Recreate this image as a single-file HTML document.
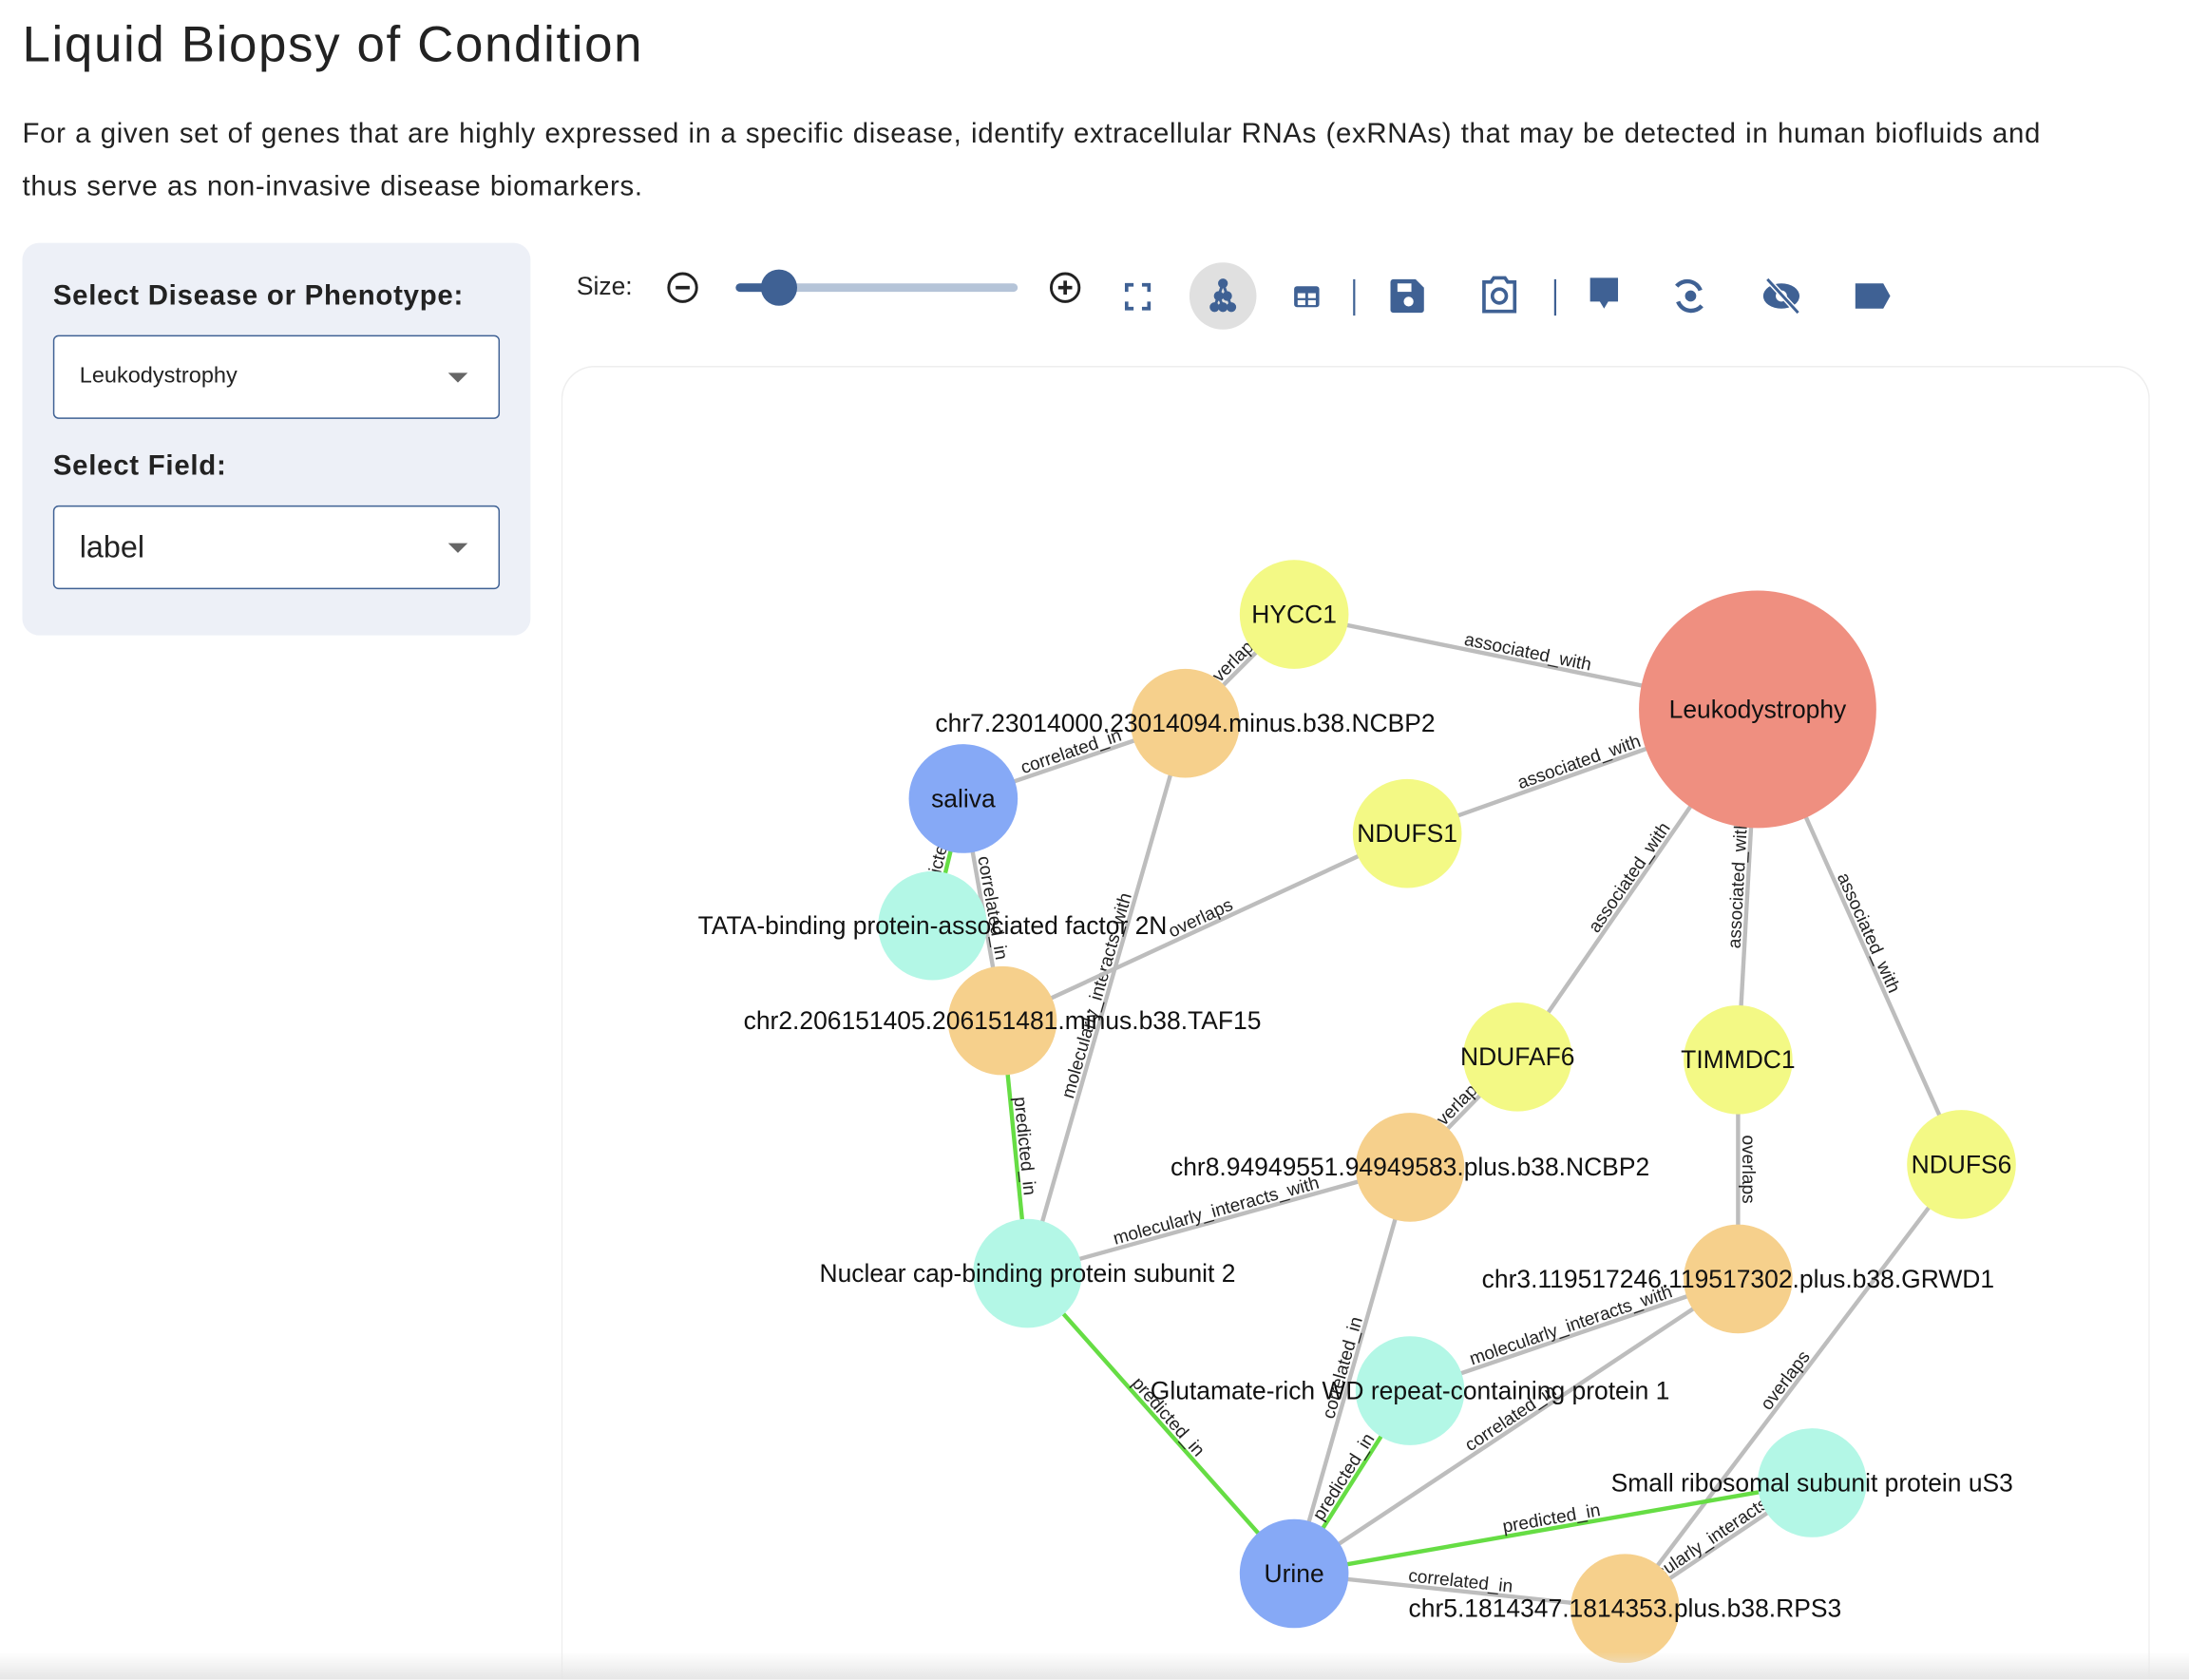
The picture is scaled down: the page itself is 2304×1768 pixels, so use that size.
<!DOCTYPE html>
<html><head><meta charset="utf-8">
<style>
html,body{margin:0;padding:0;background:#fff;overflow:hidden;width:2304px;height:1768px}
#clip{position:absolute;left:0;top:0;width:2304px;height:1768px;overflow:hidden}
#root{position:absolute;left:0;top:0;width:1568px;height:1203px;overflow:hidden;transform:scale(1.46939);transform-origin:0 0;font-family:"Liberation Sans",sans-serif;color:#222}
h1{position:absolute;left:16px;top:11px;margin:0;font-weight:400;font-size:36px;letter-spacing:1.1px}
.desc{position:absolute;left:16px;top:77px;width:1470px;font-size:20px;line-height:38px;color:#222;letter-spacing:0.45px;word-spacing:0.5px}
.panel{position:absolute;left:16px;top:174px;width:364px;height:281px;background:#edf0f7;border-radius:12px}
.lbl{position:absolute;left:22px;font-weight:700;font-size:20px;color:#222;letter-spacing:0.5px}
.sel{position:absolute;left:22px;width:320px;height:60px;border:1.5px solid #3f6194;border-radius:4px;background:#fff;box-sizing:border-box}
.sel span{position:absolute;left:18px;top:50%;transform:translateY(-50%)}
.sel i{position:absolute;right:22px;top:26px;width:0;height:0;border-left:7px solid transparent;border-right:7px solid transparent;border-top:7px solid #666}
.tb{position:absolute;top:190px}
.graph{position:absolute;left:402px;top:262px;width:1138px;height:941px;border:1px solid #eee;border-bottom:none;border-radius:24px 24px 0 0;background:#fff;box-sizing:border-box}
.bot{position:absolute;left:0;top:1183px;width:1568px;height:20px;background:linear-gradient(#fff0,#e6e6e6)}
</style></head><body>
<div id="clip">
<div id="root">
<h1>Liquid Biopsy of Condition</h1>
<div class="desc">For a given set of genes that are highly expressed in a specific disease, identify extracellular RNAs (exRNAs) that may be detected in human biofluids and thus serve as non-invasive disease biomarkers.</div>
<div class="panel">
 <div class="lbl" style="top:27px">Select Disease or Phenotype:</div>
 <div class="sel" style="top:66px;font-size:16px"><span>Leukodystrophy</span><i></i></div>
 <div class="lbl" style="top:149px">Select Field:</div>
 <div class="sel" style="top:188px;font-size:22px"><span>label</span><i></i></div>
</div>
<div class="tb" style="left:413px;top:195px;font-size:18px">Size:</div>
<svg class="tb" style="left:470px;top:180px" width="900" height="64">
 <g><circle cx="19" cy="26" r="10" fill="none" stroke="#222" stroke-width="2"/><line x1="14" y1="26" x2="24" y2="26" stroke="#222" stroke-width="2.5"/></g>
 <g><line x1="60" y1="26" x2="256" y2="26" stroke="#b5c4d8" stroke-width="6" stroke-linecap="round"/><line x1="60" y1="26" x2="88" y2="26" stroke="#3f6194" stroke-width="6" stroke-linecap="round"/><circle cx="88" cy="26" r="13" fill="#3f6194"/></g>
 <g><circle cx="293" cy="26" r="10" fill="none" stroke="#222" stroke-width="2"/><line x1="288" y1="26" x2="298" y2="26" stroke="#222" stroke-width="2.5"/><line x1="293" y1="21" x2="293" y2="31" stroke="#222" stroke-width="2.5"/></g>
 <g fill="none" stroke="#3f6194" stroke-width="2.5"><path d="M337 29v-5h5M348 24h5v5M353 36v5h-5M342 41h-5v-5"/></g>
 <g><circle cx="406" cy="32" r="24" fill="#e0e0e0"/><g stroke="#3f6194" stroke-width="2" fill="#3f6194"><line x1="406" y1="23" x2="400" y2="40"/><line x1="406" y1="23" x2="412" y2="40"/><line x1="403" y1="32" x2="406" y2="40"/><circle cx="406" cy="23" r="2.5"/><circle cx="403" cy="32" r="2.5"/><circle cx="409" cy="32" r="2.5"/><circle cx="400" cy="40" r="2.5"/><circle cx="406" cy="40" r="2.5"/><circle cx="412" cy="40" r="2.5"/></g></g>
 <g><rect x="457" y="25" width="18" height="15" rx="2" fill="#3f6194"/><rect x="459.5" y="30" width="5.5" height="3.5" fill="#fff"/><rect x="467" y="30" width="5.5" height="3.5" fill="#fff"/><rect x="459.5" y="35" width="5.5" height="3.5" fill="#fff"/><rect x="467" y="35" width="5.5" height="3.5" fill="#fff"/></g>
 <line x1="500" y1="20" x2="500" y2="46" stroke="#3f6194" stroke-width="1.5"/>
 <g><path d="M528 20h16l6 6v16a2 2 0 0 1-2 2h-20a2 2 0 0 1-2-2v-20a2 2 0 0 1 2-2z" fill="#3f6194"/><rect x="531" y="23" width="10" height="6" fill="#fff"/><circle cx="539" cy="36" r="3.5" fill="#fff"/></g>
 <g><path d="M593 22h5l2-3h8l2 3h5v21h-22z" fill="none" stroke="#3f6194" stroke-width="2.5"/><circle cx="604" cy="32" r="5" fill="none" stroke="#3f6194" stroke-width="2.5"/></g>
 <line x1="644" y1="20" x2="644" y2="46" stroke="#3f6194" stroke-width="1.5"/>
 <g><path d="M669 19h20v17h-7l-3 5-3-5h-7z" fill="#3f6194"/></g>
 <g fill="none" stroke="#3f6194" stroke-width="3"><path d="M731 25a10 10 0 0 1 17 3M749 39a10 10 0 0 1-17-3"/><circle cx="741" cy="32" r="2.5" fill="#3f6194"/></g>
 <g><ellipse cx="806" cy="32" rx="13" ry="9" fill="#3f6194"/><circle cx="806" cy="32" r="4" fill="#fff"/><line x1="796" y1="20" x2="818" y2="44" stroke="#fff" stroke-width="4"/><line x1="796" y1="20" x2="818" y2="44" stroke="#3f6194" stroke-width="2"/></g>
 <g><path d="M859 23h20l5 9-5 9h-20z" fill="#3f6194"/></g>
</svg>
<div class="graph"></div>
<svg id="net" style="position:absolute;left:0;top:0;overflow:hidden" width="1568" height="1203"></svg>
<div class="bot"></div>
</div>
</div>
<script>
const nodeIds=["HYCC1","Leukodystrophy","chr7","saliva","NDUFS1","TATA","chr2","NDUFAF6","TIMMDC1","NDUFS6","chr8","Nuclear","chr3","Glutamate","Small","Urine","chr5"];
const nodeLabels=["HYCC1","Leukodystrophy","chr7.23014000.23014094.minus.b38.NCBP2","saliva","NDUFS1","TATA-binding protein-associated factor 2N","chr2.206151405.206151481.minus.b38.TAF15","NDUFAF6","TIMMDC1","NDUFS6","chr8.94949551.94949583.plus.b38.NCBP2","Nuclear cap-binding protein subunit 2","chr3.119517246.119517302.plus.b38.GRWD1","Glutamate-rich WD repeat-containing protein 1","Small ribosomal subunit protein uS3","Urine","chr5.1814347.1814353.plus.b38.RPS3"];
const nodeTypes=["gene","disease","rna","fluid","gene","protein","rna","gene","gene","gene","rna","protein","rna","protein","protein","fluid","rna"];
const nodeX=[927,1259,849,690,1008,668,718,1087,1245,1405,1010,736,1245,1010,1298,927,1164];
const nodeY=[440,508,518,572,597,663,731,757,759,834,836,912,916,996,1062,1127,1152];
const edgeSrc=["HYCC1","HYCC1","Leukodystrophy","Leukodystrophy","Leukodystrophy","Leukodystrophy","chr7","chr7","NDUFS1","saliva","saliva","chr2","NDUFAF6","TIMMDC1","NDUFS6","chr8","chr8","chr3","chr3","Glutamate","Nuclear","Small","chr5","Urine"];
const edgeTgt=["Leukodystrophy","chr7","NDUFS1","NDUFAF6","TIMMDC1","NDUFS6","saliva","Nuclear","chr2","TATA","chr2","Nuclear","chr8","chr3","chr5","Nuclear","Urine","Glutamate","Urine","Urine","Urine","Urine","Small","chr5"];
const edgeLabels=["associated_with","overlaps","associated_with","associated_with","associated_with","associated_with","correlated_in","molecularly_interacts_with","overlaps","predicted_in","correlated_in","predicted_in","overlaps","overlaps","overlaps","molecularly_interacts_with","correlated_in","molecularly_interacts_with","correlated_in","predicted_in","predicted_in","predicted_in","molecularly_interacts_with","correlated_in"];
const typeColor={gene:"#f3f985",disease:"#ef8f80",rna:"#f6d08c",fluid:"#86a9f6",protein:"#b3f7e6"};
const NS="http://www.w3.org/2000/svg";
const svg=document.getElementById('net');
function pos(id){const i=nodeIds.indexOf(id);return [nodeX[i],nodeY[i]];}
const gE=document.createElementNS(NS,'g');


svg.appendChild(gE);
const gN=document.createElementNS(NS,'g');


svg.appendChild(gN);
const gL=document.createElementNS(NS,'g');


svg.appendChild(gL);
edgeSrc.forEach((s,k)=>{
  const [x1,y1]=pos(s),[x2,y2]=pos(edgeTgt[k]);
  const green=edgeLabels[k]==="predicted_in";
  const ln=document.createElementNS(NS,'line');
  ln.setAttribute('x1',x1);ln.setAttribute('y1',y1);ln.setAttribute('x2',x2);ln.setAttribute('y2',y2);
  ln.setAttribute('stroke',green?"#66dd44":"#bdbdbd");ln.setAttribute('stroke-width',3);
  
  
  gE.appendChild(ln);
  let a=Math.atan2(y2-y1,x2-x1)*180/Math.PI;
  if(a>90)a-=180; if(a<-90)a+=180;
  const mx=(x1+x2)/2,my=(y1+y2)/2;
  const t=document.createElementNS(NS,'text');
  t.setAttribute('x',mx);t.setAttribute('y',my-3);
  t.setAttribute('text-anchor','middle');t.setAttribute('font-size','13');
  t.setAttribute('font-family','Liberation Sans, sans-serif');t.setAttribute('fill','#222');
  t.setAttribute('transform','rotate('+a+' '+mx+' '+my+')');
  t.textContent=edgeLabels[k];
  
  
  gE.appendChild(t);
});
nodeIds.forEach((id,i)=>{
  const c=document.createElementNS(NS,'circle');
  c.setAttribute('cx',nodeX[i]);c.setAttribute('cy',nodeY[i]);
  c.setAttribute('r',nodeTypes[i]==="disease"?85:39);
  c.setAttribute('fill',typeColor[nodeTypes[i]]);
  
  
  gN.appendChild(c);
  const t=document.createElementNS(NS,'text');
  t.setAttribute('x',nodeX[i]);t.setAttribute('y',nodeY[i]+6);
  t.setAttribute('text-anchor','middle');t.setAttribute('font-size','18');
  t.setAttribute('font-family','Liberation Sans, sans-serif');t.setAttribute('fill','#111');
  t.textContent=nodeLabels[i];
  
  
  gL.appendChild(t);
});
</script>
</body></html>
